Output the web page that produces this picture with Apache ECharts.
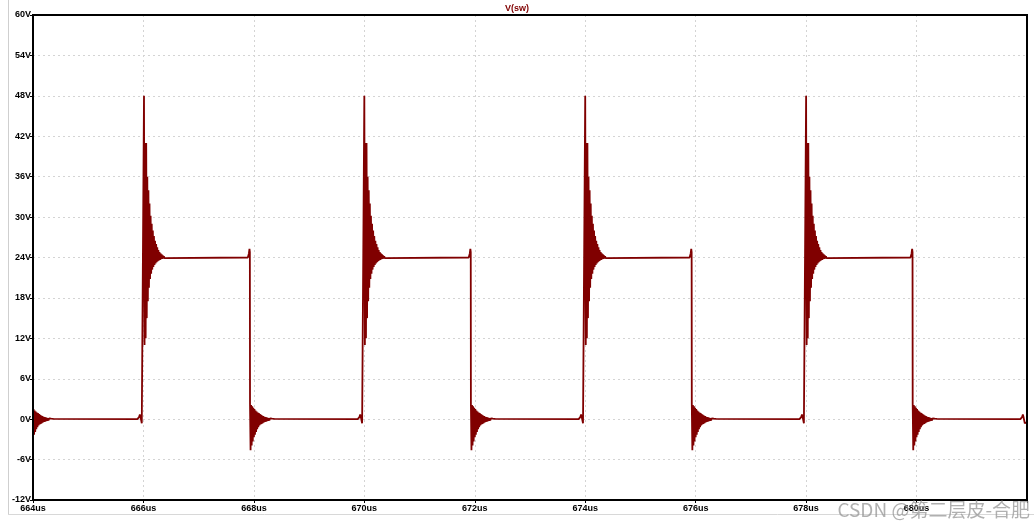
<!DOCTYPE html>
<html>
<head>
<meta charset="utf-8">
<script src="https://cdn.jsdelivr.net/npm/echarts@6/dist/echarts.min.js"></script>
<style>html,body{margin:0;padding:0;background:#fff;}#c{width:1034px;height:529px;}</style>
</head>
<body>
<div id="c"></div>
<script>
// ---- data ----
var seriesName = 'V(sw)';
var xTickLabels = ['664us','666us','668us','670us','672us','674us','676us','678us','680us',''];
var yTickLabels = ['-12V','-6V','0V','6V','12V','18V','24V','30V','36V','42V','48V','54V','60V'];
var timeStart = 664, timeEnd = 682;
// switching edges (us)
var riseTimes = [662, 666.01, 670.0, 674.0, 678.0, 682.0];
var fallTimes = [663.93, 667.93, 671.93, 675.93, 679.93];
// ringing sampled every ringStep us: peak / trough values after each edge
var ringStep = 0.02;
var highRingUpper = [48, 41, 41, 36, 34, 32, 30.2, 29, 28, 27.2, 26.5, 26, 25.5, 25.1, 24.8, 24.6, 24.45, 24.3, 24.2, 24.1, 24.05];
var highRingLower = [11, 12, 15, 17.5, 19.5, 20.8, 21.6, 22.2, 22.6, 22.9, 23.1, 23.3, 23.45, 23.55, 23.65, 23.75, 23.8, 23.85, 23.9, 23.95, 24];
var lowRingUpper = [2.2, 2.1, 1.9, 1.7, 1.5, 1.3, 1.15, 1.0, 0.9, 0.75, 0.65, 0.55, 0.45, 0.35, 0.3, 0.25, 0.2, 0.15, 0.12, 0.1, 0.08, 0.06, 0.05, 0.04];
var lowRingLower = [-4.6, -3.9, -3.3, -2.7, -2.3, -1.9, -1.5, -1.2, -0.95, -0.8, -0.7, -0.6, -0.5, -0.42, -0.36, -0.3, -0.25, -0.2, -0.15, -0.1, -0.08, -0.06, -0.05, -0.04];
// small glitch just before each rising edge (offset us, value V)
var preRiseOffsets = [-0.12, -0.09, -0.075, -0.06, -0.04, -0.01];
var preRiseValues = [0, 0.3, 0.7, 0.2, -0.6, -0.5];
// small glitch just before each falling edge
var preFallOffsets = [-0.04, -0.02, -0.01, -0.003];
var preFallValues = [24, 24.6, 25.3, 24.8];

// ---- build the trace ----
var data = [];
function addRing(t0, up, lo) {
  for (var i = 0; i < up.length; i++) {
    data.push([t0 + i * ringStep, up[i]]);
    data.push([t0 + i * ringStep + ringStep / 2, lo[i]]);
  }
}
var events = [];
riseTimes.forEach(function (t) { events.push({t: t, type: 'rise'}); });
fallTimes.forEach(function (t) { events.push({t: t, type: 'fall'}); });
events.sort(function (a, b) { return a.t - b.t; });
events.forEach(function (e) {
  if (e.type === 'rise') {
    for (var i = 0; i < preRiseOffsets.length; i++) data.push([e.t + preRiseOffsets[i], preRiseValues[i]]);
    addRing(e.t, highRingUpper, highRingLower);
  } else {
    for (var j = 0; j < preFallOffsets.length; j++) data.push([e.t + preFallOffsets[j], preFallValues[j]]);
    addRing(e.t, lowRingUpper, lowRingLower);
  }
});
data = data.filter(function (p) { return p[0] < timeEnd; });

var chart = echarts.init(document.getElementById('c'), null, {renderer: 'canvas'});
var labelFont = {color: '#000', fontSize: 9, fontWeight: 'bold', fontFamily: 'Liberation Sans, Arial, sans-serif'};
chart.setOption({
  animation: false,
  backgroundColor: '#fff',
  grid: {left: 33, right: 7, top: 15, bottom: 29, show: false},
  xAxis: {
    type: 'value', min: timeStart, max: timeEnd, interval: 2,
    axisLine: {show: true, onZero: false, lineStyle: {color: '#000', width: 2}},
    axisTick: {show: true, length: 3, lineStyle: {color: '#000'}},
    axisLabel: Object.assign({margin: 4, formatter: function (v) { return xTickLabels[Math.round((v - timeStart) / 2)] || ''; }}, labelFont),
    splitLine: {show: true, lineStyle: {color: '#d4d4d4', type: [2, 3], width: 1}}
  },
  yAxis: {
    type: 'value', min: -12, max: 60, interval: 6,
    axisLine: {show: true, onZero: false, lineStyle: {color: '#000', width: 2}},
    axisTick: {show: true, length: 3, lineStyle: {color: '#000'}},
    axisLabel: Object.assign({margin: 2, formatter: function (v) { return yTickLabels[Math.round((v + 12) / 6)]; }}, labelFont),
    splitLine: {show: true, lineStyle: {color: '#d4d4d4', type: [2, 3], width: 1}}
  },
  series: [{
    name: seriesName, type: 'line', data: data, showSymbol: false, sampling: null,
    lineStyle: {color: '#800000', width: 1.8}, clip: true
  }],
  graphic: [
    {type: 'rect', z: 100, silent: true, shape: {x: 33, y: 15, width: 994, height: 485}, style: {fill: 'none', stroke: '#000', lineWidth: 2}},
    {type: 'text', left: 'center', top: 4, style: {text: seriesName, fill: '#800000', font: 'bold 9px "Liberation Sans", Arial, sans-serif'}},
    {type: 'line', shape: {x1: 8.5, y1: 0, x2: 8.5, y2: 514}, style: {stroke: '#cfcfcf', lineWidth: 1}},
    {type: 'line', shape: {x1: 8, y1: 514.5, x2: 1034, y2: 514.5}, style: {stroke: '#d8d8d8', lineWidth: 1}},
    {type: 'text', z: 101, right: 4, top: 500, style: {text: 'CSDN @第二层皮-合肥', fill: 'rgba(150,150,150,0.75)', font: '19px "Noto Sans CJK SC", sans-serif'}}
  ]
});
</script>
</body>
</html>
